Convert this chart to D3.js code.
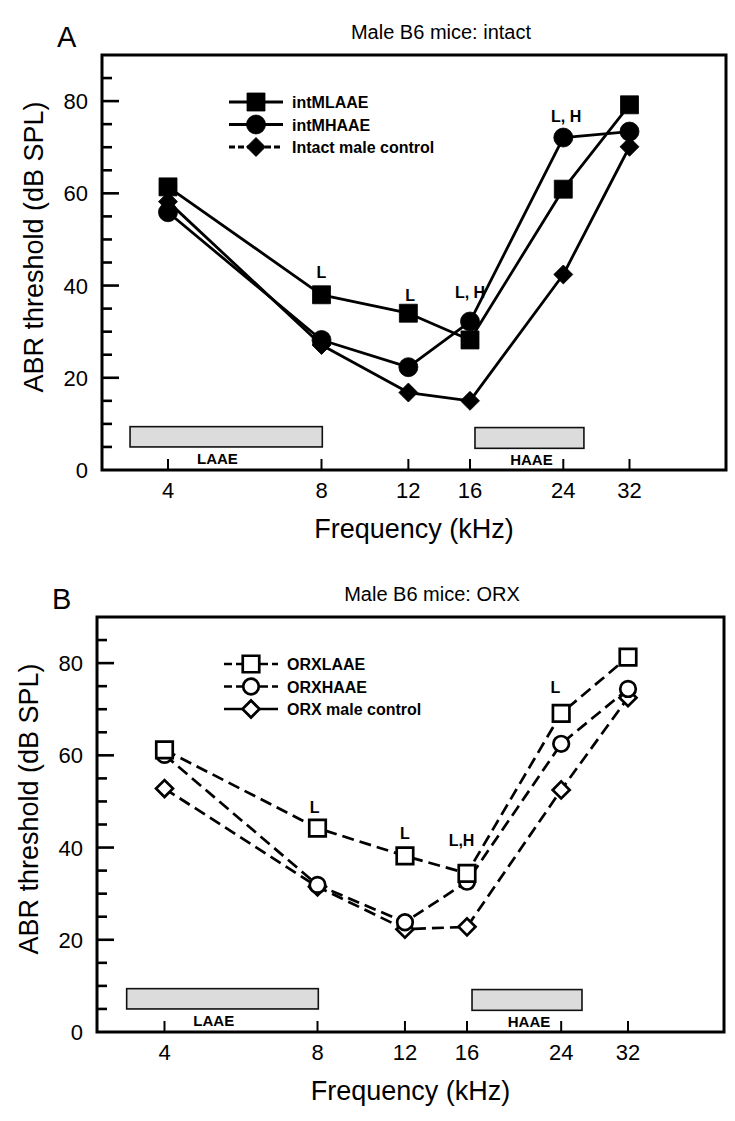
<!DOCTYPE html>
<html><head><meta charset="utf-8">
<script src="https://cdn.jsdelivr.net/npm/d3@7"></script>
<style>
body{margin:0;background:#fff}
svg{display:block}
text{font-family:"Liberation Sans",Arial,Helvetica,sans-serif;fill:#000}
</style>
</head><body>
<svg id="chart" width="735" height="1121"></svg>
<script>
// ---------- data ----------
const freqs = [4, 8, 12, 16, 24, 32];            // kHz (categories)
const freqTicks = [4, 8, 12, 16, 24, 32];
const yTickLabels = [0, 20, 40, 60, 80];
const yTicksAll = d3.range(5, 90, 5);

// Panel A: intact males
const intMLAAE   = [61.4, 38.0, 34.0, 28.2, 60.9, 79.2];
const intMHAAE   = [55.9, 28.2, 22.3, 32.2, 72.1, 73.4];
const intControl = [58.2, 27.1, 16.8, 15.0, 42.4, 70.1];

// Panel B: ORX males
const orxLAAE    = [61.2, 44.2, 38.2, 34.4, 69.1, 81.3];
const orxHAAE    = [60.1, 31.9, 23.8, 32.6, 62.5, 74.4];
const orxControl = [52.8, 31.5, 22.3, 22.8, 52.5, 72.5];

// exposure bands (kHz span, dB span) and label frequency
const bandNames = ["LAAE", "HAAE"];
const bandF0 = [3.37, 16.35];
const bandF1 = [8.03, 26.25];
const bandLo = [5.0, 4.7];
const bandHi = [9.4, 9.2];
const bandLabelF = [5.0, 20.9];

// significance annotations
const sigAText = ["L", "L", "L, H", "L, H"];
const sigAF    = [8, 12.1, 16, 24.3];
const sigAV    = [43.0, 37.9, 38.6, 76.8];
const sigBText = ["L", "L", "L,H", "L"];
const sigBF    = [7.9, 12, 15.6, 23.4];
const sigBV    = [48.8, 43.2, 41.6, 74.8];

// ---------- drawing ----------
const svg = d3.select("#chart");

function drawPanel(cfg) {
  const g = svg.append("g").attr("transform", `translate(${cfg.left},${cfg.top})`);
  const W = cfg.width, H = cfg.height;
  const x = d3.scaleLog().base(2).domain([4, 8, 16, 32]).range(cfg.xRange);
  const y = d3.scaleLinear().domain([0, 90]).range([H, 0]);

  // bands
  bandNames.forEach((nm, i) => {
    g.append("rect")
      .attr("x", x(bandF0[i])).attr("y", y(bandHi[i]))
      .attr("width", x(bandF1[i]) - x(bandF0[i]))
      .attr("height", y(bandLo[i]) - y(bandHi[i]))
      .attr("fill", "#dcdcdc").attr("stroke", "#111").attr("stroke-width", 1.6);
    g.append("text").attr("x", x(bandLabelF[i])).attr("y", y(bandLo[i]) + 17)
      .attr("text-anchor", "middle").attr("font-weight", "bold").attr("font-size", 15)
      .text(nm);
  });

  // frame
  g.append("rect").attr("x", 0).attr("y", 0).attr("width", W).attr("height", H)
    .attr("fill", "none").attr("stroke", "#000").attr("stroke-width", 3);

  // y ticks
  yTicksAll.forEach(v => {
    const major = yTickLabels.includes(v);
    g.append("line").attr("x1", 0).attr("x2", major ? 17 : 10)
      .attr("y1", y(v)).attr("y2", y(v)).attr("stroke", "#000").attr("stroke-width", 2.6);
  });
  yTickLabels.forEach(v => {
    g.append("text").attr("x", -14).attr("y", y(v) + 8).attr("text-anchor", "end")
      .attr("font-size", 22).text(v);
  });
  // x ticks
  freqTicks.forEach(f => {
    g.append("line").attr("x1", x(f)).attr("x2", x(f)).attr("y1", H).attr("y2", H - 11)
      .attr("stroke", "#000").attr("stroke-width", 2);
    g.append("text").attr("x", x(f)).attr("y", H + 28).attr("text-anchor", "middle")
      .attr("font-size", 22).text(f);
  });

  // axis titles
  g.append("text").attr("x", W / 2).attr("y", H + 68).attr("text-anchor", "middle")
    .attr("font-size", 27).text("Frequency (kHz)");
  g.append("text").attr("transform", `translate(-59,${192}) rotate(-90)`)
    .attr("text-anchor", "middle").attr("font-size", 27).text("ABR threshold (dB SPL)");

  // title and letter
  g.append("text").attr("x", cfg.titleX).attr("y", -16).attr("text-anchor", "middle")
    .attr("font-size", 20).text(cfg.title);
  g.append("text").attr("x", -45).attr("y", -8).attr("font-size", 29).text(cfg.letter);

  // lines
  const line = d3.line().x((d, i) => x(freqs[i])).y(d => y(d));
  cfg.series.forEach(s => {
    g.append("path").attr("d", line(s.values)).attr("fill", "none")
      .attr("stroke", "#000").attr("stroke-width", cfg.lineWidth)
      .attr("stroke-dasharray", cfg.plotDash || null)
      .attr("stroke-linejoin", "round");
  });

  function marker(sel, shape, filled) {
    const sizes = filled
      ? {square: 18 * 18, circle: Math.PI * 9.5 * 9.5, diamond: 13.4 * 13.4}
      : {square: 16.5 * 16.5, circle: Math.PI * 7.8 * 7.8, diamond: 12 * 12};
    const type = shape === "circle" ? d3.symbolCircle : d3.symbolSquare;
    sel.append("path").attr("d", d3.symbol().type(type).size(sizes[shape])())
      .attr("transform", function () {
        const t = d3.select(this.parentNode).attr("data-t");
        return shape === "diamond" ? "rotate(45)" : null;
      })
      .attr("fill", filled ? "#000" : "#fff")
      .attr("stroke", "#000").attr("stroke-width", filled ? 0.8 : 2.7);
  }

  // markers (drawn after all lines)
  cfg.markerOrder.forEach(idx => {
    const s = cfg.series[idx];
    s.values.forEach((v, i) => {
      const mg = g.append("g").attr("transform", `translate(${x(freqs[i])},${y(v)})`);
      marker(mg, s.shape, cfg.filled);
    });
  });

  // significance labels
  cfg.sigText.forEach((t, i) => {
    g.append("text").attr("x", x(cfg.sigF[i])).attr("y", y(cfg.sigV[i]) + 6)
      .attr("text-anchor", "middle").attr("font-weight", "bold").attr("font-size", 16).text(t);
  });

  // legend
  const legRows = [47, 69.5, 92];
  cfg.series.forEach((s, i) => {
    const ly = legRows[i];
    g.append("line").attr("x1", 127).attr("x2", 181).attr("y1", ly).attr("y2", ly)
      .attr("stroke", "#000").attr("stroke-width", cfg.lineWidth)
      .attr("stroke-dasharray", s.legendDash || null);
    const mg = g.append("g").attr("transform", `translate(154,${ly})`);
    marker(mg, s.shape, cfg.filled);
    g.append("text").attr("x", 190).attr("y", ly + 6).attr("font-weight", "bold")
      .attr("font-size", 16).text(s.name);
  });
}

drawPanel({
  left: 102, top: 55, width: 624, height: 415,
  xRange: [66, 219.5, 368, 527.5],
  title: "Male B6 mice: intact", titleX: 339, letter: "A",
  filled: true, lineWidth: 2.8, plotDash: null,
  series: [
    {name: "intMLAAE", values: intMLAAE, shape: "square", legendDash: null},
    {name: "intMHAAE", values: intMHAAE, shape: "circle", legendDash: null},
    {name: "Intact male control", values: intControl, shape: "diamond", legendDash: "6,3"}
  ],
  markerOrder: [2, 1, 0],
  sigText: sigAText, sigF: sigAF, sigV: sigAV
});

drawPanel({
  left: 97, top: 617, width: 627, height: 415,
  xRange: [67.5, 220.5, 370, 531],
  title: "Male B6 mice: ORX", titleX: 335, letter: "B",
  filled: false, lineWidth: 2.7, plotDash: "12,6",
  series: [
    {name: "ORXLAAE", values: orxLAAE, shape: "square", legendDash: "8,4"},
    {name: "ORXHAAE", values: orxHAAE, shape: "circle", legendDash: "8,4"},
    {name: "ORX male control", values: orxControl, shape: "diamond", legendDash: null}
  ],
  markerOrder: [2, 1, 0],
  sigText: sigBText, sigF: sigBF, sigV: sigBV
});
</script>
</body></html>
